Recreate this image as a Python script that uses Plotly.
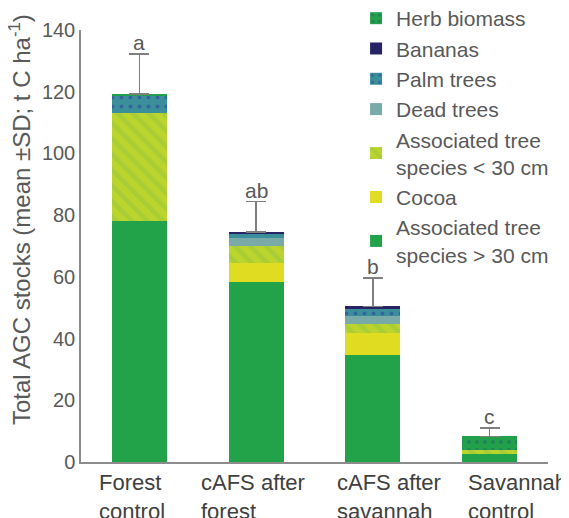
import plotly.graph_objects as go

categories = ["Forest<br>control", "cAFS after<br>forest", "cAFS after<br>savannah", "Savannah<br>control"]
assoc_gt30 = [78.0, 58.3, 34.7, 2.6]
cocoa = [0.0, 6.2, 7.1, 0.0]
assoc_lt30 = [35.0, 5.5, 2.9, 1.2]
dead_trees = [0.0, 2.6, 2.6, 0.0]
palm_trees = [5.8, 1.6, 2.6, 0.0]
bananas = [0.0, 0.4, 0.5, 0.0]
herb = [0.5, 0.0, 0.0, 4.5]
sd = [13.0, 9.8, 9.3, 2.8]
letters = ["a", "ab", "b", "c"]
y_title = "Total AGC stocks (mean ±SD; t C ha<sup>-1</sup>)"

# (name, values, color, pattern, pattern colour, pattern size, solidity)
series = [
    ("Associated tree<br>species > 30 cm", assoc_gt30, "#22a34a", None, None, 8, 0.3),
    ("Cocoa", cocoa, "#e0dc22", None, None, 8, 0.3),
    ("Associated tree<br>species < 30 cm", assoc_lt30, "#bcd52e", "\\", "#98c53c", 11, 0.45),
    ("Dead trees", dead_trees, "#7aaaa8", None, None, 8, 0.3),
    ("Palm trees", palm_trees, "#3a8f9a", ".", "#2b3d9e", 9, 0.16),
    ("Bananas", bananas, "#272466", None, None, 8, 0.3),
    ("Herb biomass", herb, "#22a04b", ".", "#1c6a5a", 8, 0.22),
]
label_shift = [-42, -57, -38, -24]

fig = go.Figure()
for i, (name, vals, col, shape, fg, sz, sol) in enumerate(series):
    marker = dict(color=col, line=dict(width=0))
    if shape:
        marker["pattern"] = dict(shape=shape, fgcolor=fg, bgcolor=col, size=sz, solidity=sol, fillmode="overlay")
    kw = {}
    if i == len(series) - 1:
        kw["error_y"] = dict(type="data", array=sd, arrayminus=[0] * len(sd), symmetric=False,
                             color="#7f7f7f", thickness=1.5, width=10)
    fig.add_trace(go.Bar(x=categories, y=vals, name=name, marker=marker, width=0.47, **kw))

totals = [sum(s[1][j] for s in series) for j in range(len(categories))]
for j, cat in enumerate(categories):
    fig.add_annotation(x=cat, y=totals[j] + sd[j], text=letters[j], showarrow=False,
                       yanchor="bottom", yshift=-2, font=dict(size=21, color="#595959"))
    fig.add_annotation(x=cat, y=0, yref="paper", text=cat, showarrow=False,
                       xanchor="left", yanchor="top", align="left", xshift=label_shift[j], yshift=-6,
                       font=dict(size=22, color="#404040"))

fig.add_annotation(xref="paper", yref="paper", x=-0.1306, y=0.56, text=y_title, textangle=-90,
                   showarrow=False, xanchor="center", yanchor="middle",
                   font=dict(size=24, color="#595959"))

fig.update_layout(
    barmode="stack",
    width=561, height=510,
    margin=dict(l=73, r=21, t=22, b=56, autoexpand=False),
    paper_bgcolor="white", plot_bgcolor="white",
    font=dict(family="Liberation Sans, Arial, sans-serif", color="#595959", size=21),
    showlegend=True,
    legend=dict(traceorder="reversed", x=0.589, y=1.074, xanchor="left", yanchor="top",
                font=dict(size=21, color="#595959"), bgcolor="rgba(0,0,0,0)",
                itemwidth=30, tracegroupgap=0, maxheight=480),
    xaxis=dict(range=[-0.5, 3.5], autorange=False, showline=True, linecolor="#8c8c8c", linewidth=1.5,
               ticks="", showticklabels=False, automargin=False),
    yaxis=dict(range=[0, 140], autorange=False, dtick=20, showline=True, linecolor="#8c8c8c", linewidth=1.5,
               showgrid=False, ticks="", tickfont=dict(size=20, color="#595959"), zeroline=False,
               automargin=False),
)

fig.write_html("out.html")
